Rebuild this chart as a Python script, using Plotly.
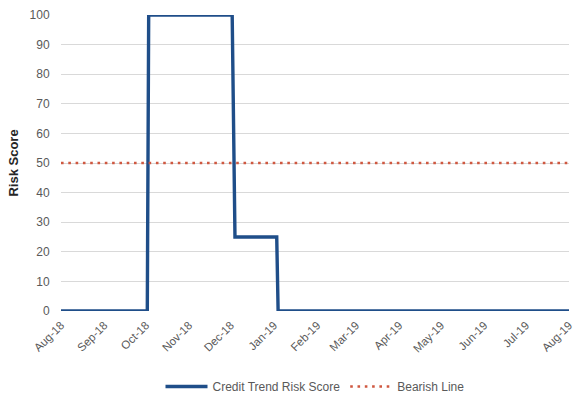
import plotly.graph_objects as go

# Credit trend risk score (change points of the step series)
score_dates = ["2018-08-01", "2018-10-02", "2018-10-03", "2018-12-02",
               "2018-12-04", "2019-01-03", "2019-01-04", "2019-08-01"]
score_values = [0, 0, 100, 100, 25, 25, 0, 0]

# Bearish threshold
bearish_dates = ["2018-08-01", "2019-08-01"]
bearish_values = [50, 50]

font_family = "Liberation Sans, Arial, sans-serif"

fig = go.Figure()
fig.add_trace(go.Scatter(
    x=score_dates, y=score_values, mode="lines",
    name="Credit Trend Risk Score",
    line=dict(color="#1F4E89", width=3.4),
))
fig.add_trace(go.Scatter(
    x=bearish_dates, y=bearish_values, mode="lines",
    name="Bearish Line",
    line=dict(color="#CF5840", width=2.6, dash="2.6px,4.7px"),
))

fig.update_layout(
    width=580, height=393,
    margin=dict(l=61, r=11, t=15, b=82, autoexpand=False),
    paper_bgcolor="white", plot_bgcolor="white",
    font=dict(family=font_family, size=12, color="#595959"),
    showlegend=True,
    legend=dict(orientation="h", x=0.5, xanchor="center", y=-0.255,
                yanchor="middle", font=dict(size=12, color="#595959"),
                itemwidth=42),
    xaxis=dict(
        type="date", automargin=False,
        range=["2018-08-01", "2019-08-01"],
        tick0="2018-08-01", dtick="M1", tickformat="%b-%y",
        tickangle=-45, tickfont=dict(size=11.5, color="#595959"),
        showgrid=False, zeroline=False, showline=False,
        ticks="outside", ticklen=2, tickcolor="rgba(0,0,0,0)",
    ),
    yaxis=dict(
        automargin=False,
        range=[0, 100], dtick=10,
        showgrid=True, gridcolor="#D9D9D9", gridwidth=1,
        zeroline=False, showline=False,
        ticks="outside", ticklen=8, tickcolor="rgba(0,0,0,0)",
        tickfont=dict(size=12, color="#595959"),
        title=dict(text="<b>Risk Score</b>", standoff=8,
                   font=dict(size=13, color="#262626")),
    ),
)

fig.write_html("out.html")
